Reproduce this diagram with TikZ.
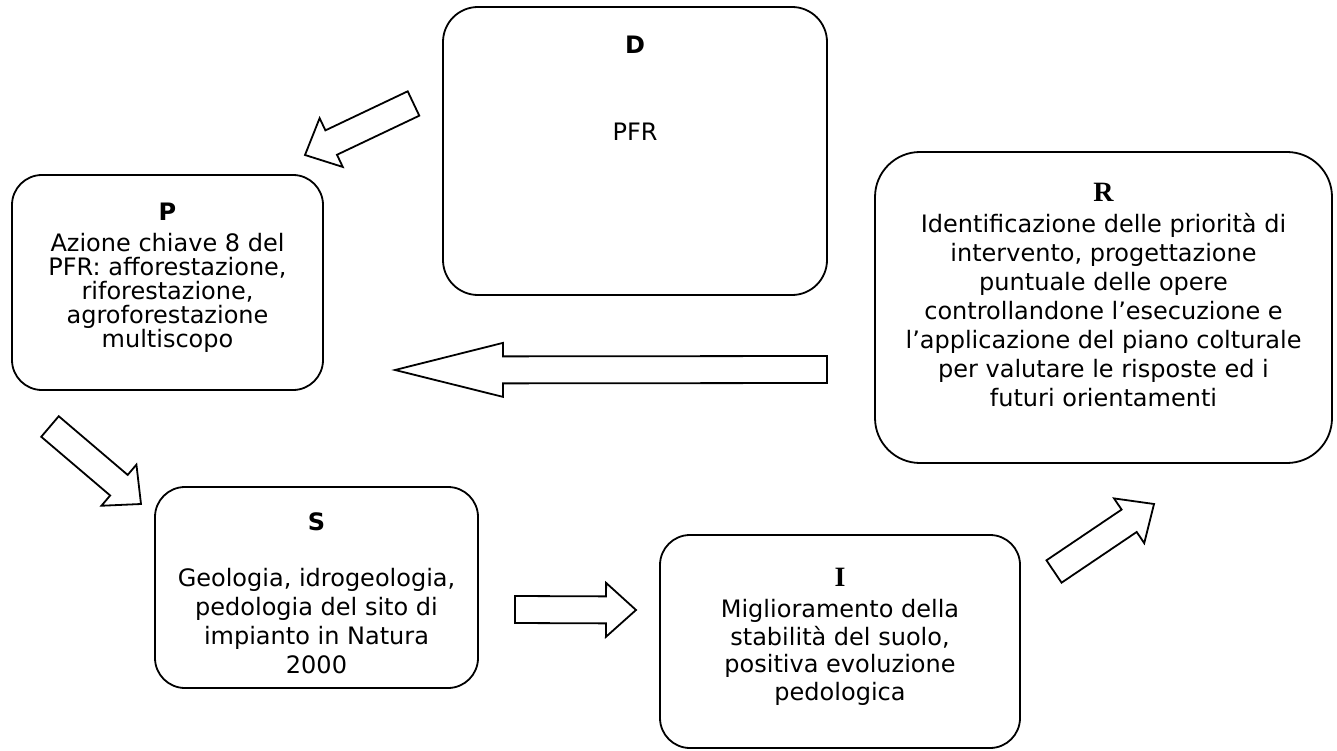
\documentclass[tikz,border=0pt]{standalone}
\usepackage{fontspec}
\setmainfont{DejaVu Sans}
\newfontfamily\timesfont{Liberation Serif}
\usetikzlibrary{calc, positioning}

\tikzstyle{box} = [rectangle, draw=black, line width=1.8pt, inner sep=0pt, fill=white]
\tikzstyle{fatarrow} = [draw=black, line width=1.8pt, fill=white]

% width, height, baselineskip, top gap, text
\newcommand{\boxtext}[5]{\parbox[c][#2][t]{#1}{\centering\fontsize{24}{#3}\selectfont\vspace*{#4}#5}}
\newcommand{\sanstitle}[1]{{\bfseries #1}}
\newcommand{\seriftitle}[1]{{\timesfont\bfseries\fontsize{28}{29}\selectfont #1}}
% tail, tip, head length
\newcommand{\blockarrow}[3]{%
  \coordinate (hj) at ($(#2)!#3!(#1)$);
  \draw [fatarrow] ($(#1)!13.5pt!90:(#2)$) -- ($(hj)!13.5pt!90:(#2)$) -- ($(hj)!27pt!90:(#2)$) -- (#2)
    -- ($(hj)!27pt!-90:(#2)$) -- ($(hj)!13.5pt!-90:(#2)$) -- ($(#1)!13.5pt!-90:(#2)$) -- cycle;}

\begin{document}
\begin{tikzpicture}[x=1pt, y=-1pt]
\useasboundingbox (0,0) rectangle (1337,751);

\node (dbox) [box, rounded corners=35pt] at (635,151) {\boxtext{384pt}{288pt}{29}{29.5pt}{\sanstitle{D}\\[58pt]PFR}};
\node (pbox) [box, rounded corners=30pt] at (167.5,282.5) {\boxtext{311pt}{215pt}{24}{28.5pt}{\sanstitle{P}\\[7pt]Azione chiave 8 del\\PFR: afforestazione,\\riforestazione,\\agroforestazione\\multiscopo}};
\node (rbox) [box, rounded corners=45pt] at (1103.5,307.5) {\boxtext{457pt}{311pt}{29}{31.5pt}{\seriftitle{R}\\[2pt]Identificazione delle priorità di\\intervento, progettazione\\puntuale delle opere\\controllandone l’esecuzione e\\l’applicazione del piano colturale\\per valutare le risposte ed i\\futuri orientamenti}};
\node (sbox) [box, rounded corners=30pt] at (316.5,587.5) {\boxtext{323pt}{201pt}{29}{26pt}{\sanstitle{S}\\[27pt]Geologia, idrogeologia,\\pedologia del sito di\\impianto in Natura\\2000}};
\node (ibox) [box, rounded corners=30pt] at (840,641.5) {\boxtext{360pt}{213pt}{27.5}{33.5pt}{\seriftitle{I}\\[3.5pt]Miglioramento della\\stabilità del suolo,\\positiva evoluzione\\pedologica}};

%% arrow ends
\coordinate (dp1) at (413.5,103.5);
\coordinate (dp2) at (305,155);
\coordinate (rp1) at (827,369.5);
\coordinate (rp2) at (395,370);
\coordinate (ps1) at (50,426.5);
\coordinate (ps2) at (141,504);
\coordinate (si1) at (515,609.5);
\coordinate (si2) at (636,610);
\coordinate (ir1) at (1054,571.5);
\coordinate (ir2) at (1154,504);

\blockarrow{dp1}{dp2}{29pt}
\blockarrow{rp1}{rp2}{108pt}
\blockarrow{ps1}{ps2}{29pt}
\blockarrow{si1}{si2}{30pt}
\blockarrow{ir1}{ir2}{30pt}

\end{tikzpicture}
\end{document}
